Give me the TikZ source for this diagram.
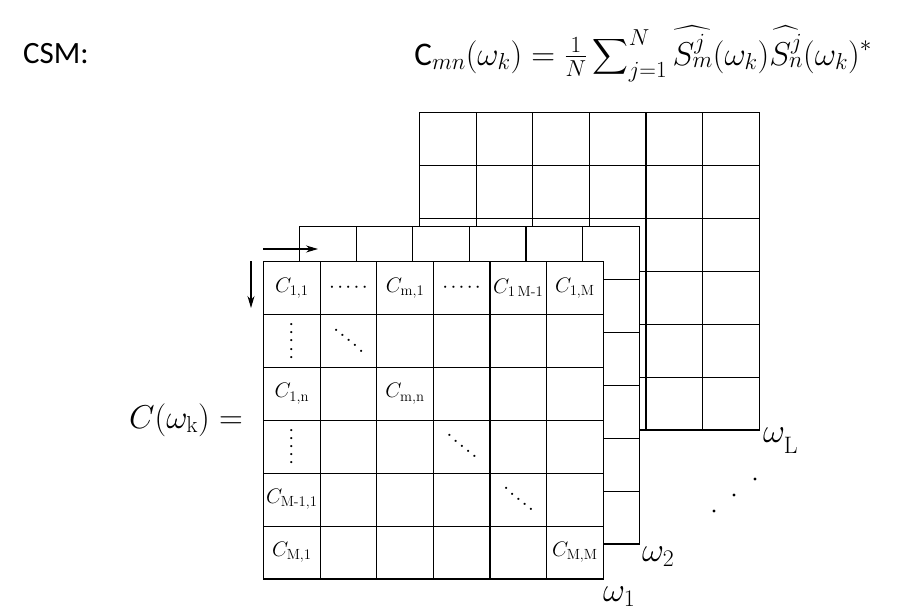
\RequirePackage{fix-cm}
\documentclass[tikz,border=0pt]{standalone}
\usepackage{amsmath}
\usepackage{graphicx}
\usepackage{fontspec}
\newfontfamily\calib{Carlito}
\usetikzlibrary{matrix,arrows.meta}
\newcommand\fivedots{{\cdot}\mkern2mu{\cdot}\mkern2mu{\cdot}\mkern2mu{\cdot}\mkern2mu{\cdot}}
\newcommand\vdotsfive{\rotatebox{90}{$\fivedots$}}
\newcommand\ddotsfive{\rotatebox{-40}{$\fivedots$}}
\tikzset{
  cell/.style={draw, line width=1.1pt, minimum width=56.6pt, minimum height=52.9pt,
    inner sep=0pt, outer sep=0pt, fill=white, anchor=center,
    font=\fontsize{21}{24}\selectfont},
  gridmat/.style={matrix of math nodes, nodes in empty cells, nodes={cell},
    column sep=-1.1pt, row sep=-1.1pt, inner sep=0pt, outer sep=0pt, anchor=north west},
  lbl/.style={inner sep=0pt, font=\fontsize{34}{38}\selectfont},
  conn/.style={line width=1.1pt, -{Stealth[length=12pt,width=7pt]}},
  ptdot/.style={circle, fill=black, inner sep=0pt, minimum size=3.4pt}
}
\begin{document}
\begin{tikzpicture}[x=1pt,y=-1pt]
\useasboundingbox (0,0) rectangle (922,611);
% header
\node[anchor=west, inner sep=0pt, font=\calib\fontsize{31}{35}\selectfont] (csm) at (23,54) {CSM:};
\node[anchor=base east, inner sep=0pt, font=\fontsize{33}{37}\selectfont] (eq) at (872,65)
  {$\text{\calib C}_{mn}(\omega_k) = \frac{1}{N}\displaystyle\sum\nolimits_{j=1}^{N}\widehat{S_m^j}(\omega_k)\widehat{S_n^j}(\omega_k)^{*}$};
% back grid (omega_L)
\matrix (back) [gridmat] at (419,112) {
 &&&&&\\
 &&&&&\\
 &&&&&\\
 &&&&&\\
 &&&&&\\
 &&&&&\\
};
% middle grid (omega_2)
\matrix (mid) [gridmat] at (299,226) {
 &&&&&\\
 &&&&&\\
 &&&&&\\
 &&&&&\\
 &&&&&\\
 &&&&&\\
};
% front grid (omega_1)
\matrix (front) [gridmat] at (263,261) {
 C_{\mathrm{1,1}} & \fivedots & C_{\mathrm{m,1}} & \fivedots & C_{\mathrm{1\,M\text{-}1}} & C_{\mathrm{1,M}} \\
 \vdotsfive & \ddotsfive & & & & \\
 C_{\mathrm{1,n}} & & C_{\mathrm{m,n}} & & & \\
 \vdotsfive & & & \ddotsfive & & \\
 C_{\mathrm{M\text{-}1,1}} & & & & \ddotsfive & \\
 C_{\mathrm{M,1}} & & & & & C_{\mathrm{M,M}} \\
};
% index arrows
\coordinate (hA) at ([yshift=12pt]front.north west);
\coordinate (hB) at ([xshift=55pt,yshift=12pt]front.north west);
\coordinate (vA) at ([xshift=-12pt]front.north west);
\coordinate (vB) at ([xshift=-12pt,yshift=-47pt]front.north west);
\draw[conn] (hA) -- (hB);
\draw[conn] (vA) -- (vB);
% labels
\node[lbl, font=\fontsize{33}{37}\selectfont, anchor=base east] (ck) at (243,428) {$C(\omega_{\mathrm{k}}) =$};
\node[lbl, anchor=base west] (wL) at (763,442) {$\omega_{\lower6pt\hbox{$\scriptstyle\mathrm{L}$}}$};
\node[lbl, anchor=base west] (w2) at (642,561) {$\omega_2$};
\node[lbl, anchor=base west] (w1) at (603,601) {$\omega_1$};
% ellipsis dots
\node[ptdot] (d1) at (714,511) {};
\node[ptdot] (d2) at (734,495) {};
\node[ptdot] (d3) at (755,479) {};
\end{tikzpicture}
\end{document}
